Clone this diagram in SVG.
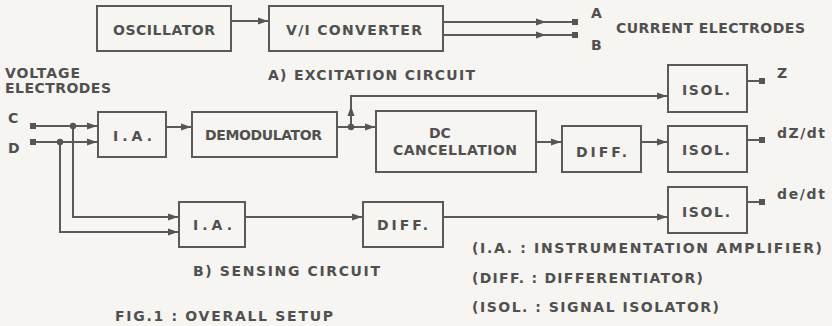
<svg xmlns="http://www.w3.org/2000/svg" width="832" height="326" viewBox="0 0 832 326">
<defs>
<marker id="arr" markerUnits="userSpaceOnUse" markerWidth="11" markerHeight="9" refX="10" refY="4.5" orient="auto">
<path d="M0,1 L10,4.5 L0,8 z" fill="#555"/>
</marker>
<style>
.box{fill:none;stroke:#5a5a5a;stroke-width:2}
.ln{fill:none;stroke:#5a5a5a;stroke-width:2}
.ar{marker-end:url(#arr)}
.am{marker-mid:url(#arr)}
.dot{fill:#555}
.sq{fill:#555}
text{font-family:"DejaVu Sans","Liberation Sans",sans-serif;font-weight:bold;font-size:14px;fill:#505050}
</style>
</defs>
<rect x="0" y="0" width="832" height="326" fill="#f6f5f1"/>

<g id="oscillator"><rect class="box" x="97" y="6" width="134" height="45"/><text x="113" y="35" textLength="102" lengthAdjust="spacing">OSCILLATOR</text></g>
<g id="vi-converter"><rect class="box" x="269" y="6" width="174" height="45"/><text x="286" y="35" textLength="136" lengthAdjust="spacing">V/I CONVERTER</text></g>
<g id="ia1"><rect class="box" x="98" y="112" width="68" height="45"/><text x="113" y="141" textLength="39" lengthAdjust="spacing">I.A.</text></g>
<g id="demodulator"><rect class="box" x="192" y="112" width="145" height="45"/><text x="205" y="140" textLength="117" lengthAdjust="spacing">DEMODULATOR</text></g>
<g id="dc-cancellation"><rect class="box" x="376" y="111" width="160" height="61"/><text x="429" y="138">DC</text><text x="393" y="155" textLength="124" lengthAdjust="spacing">CANCELLATION</text></g>
<g id="diff1"><rect class="box" x="562" y="126" width="79" height="46"/><text x="576" y="157" textLength="51" lengthAdjust="spacing">DIFF.</text></g>
<g id="isol1"><rect class="box" x="668" y="65" width="79" height="47"/><text x="682" y="95" textLength="48" lengthAdjust="spacing">ISOL.</text></g>
<g id="isol2"><rect class="box" x="668" y="126" width="79" height="46"/><text x="682" y="155" textLength="48" lengthAdjust="spacing">ISOL.</text></g>
<g id="isol3"><rect class="box" x="668" y="187" width="79" height="46"/><text x="682" y="217" textLength="48" lengthAdjust="spacing">ISOL.</text></g>
<g id="ia2"><rect class="box" x="179" y="202" width="66" height="45"/><text x="193" y="230" textLength="39" lengthAdjust="spacing">I.A.</text></g>
<g id="diff2"><rect class="box" x="363" y="202" width="80" height="45"/><text x="377" y="230" textLength="51" lengthAdjust="spacing">DIFF.</text></g>

<g id="connectors">
<path class="ln ar" d="M231,21 L268,21"/>
<path class="ln am" d="M443,22 L546,22 L575,22"/>
<path class="ln am" d="M443,35 L546,35 L575,35"/>
<path class="ln ar" d="M35,126 L97,126"/>
<path class="ln ar" d="M35,142 L97,142"/>
<path class="ln ar" d="M73,126 L73,217 L178,217"/>
<path class="ln ar" d="M60,142 L60,232 L178,232"/>
<path class="ln ar" d="M166,127 L191,127"/>
<path class="ln ar" d="M337,127 L375,127"/>
<path class="ln ar" d="M351,127 L351,106"/>
<path class="ln ar" d="M351,108 L351,96 L667,96"/>
<path class="ln ar" d="M536,142 L561,142"/>
<path class="ln ar" d="M641,142 L667,142"/>
<path class="ln ar" d="M245,217 L362,217"/>
<path class="ln ar" d="M443,217 L667,217"/>
<path class="ln" d="M747,81 L760,81"/>
<path class="ln" d="M747,140 L760,140"/>
<path class="ln" d="M747,202 L760,202"/>
<circle class="dot" cx="73" cy="126" r="3.2"/>
<circle class="dot" cx="60" cy="142" r="3.2"/>
<circle class="dot" cx="351" cy="127" r="3.2"/>
<rect class="sq" x="572" y="19" width="6" height="6"/>
<rect class="sq" x="572" y="32" width="6" height="6"/>
<rect class="sq" x="30" y="123" width="6" height="6"/>
<rect class="sq" x="30" y="139" width="6" height="6"/>
<rect class="sq" x="759" y="78" width="6" height="6"/>
<rect class="sq" x="759" y="137" width="6" height="6"/>
<rect class="sq" x="759" y="199" width="6" height="6"/>
</g>

<g id="labels">
<text x="591" y="18">A</text>
<text x="591" y="50">B</text>
<text x="616" y="33" textLength="189" lengthAdjust="spacing">CURRENT ELECTRODES</text>
<text x="268" y="80" textLength="207" lengthAdjust="spacing">A) EXCITATION CIRCUIT</text>
<text x="5" y="78" textLength="75" lengthAdjust="spacing">VOLTAGE</text>
<text x="5" y="93" textLength="106" lengthAdjust="spacing">ELECTRODES</text>
<text x="8" y="123">C</text>
<text x="8" y="153">D</text>
<text x="777" y="78">Z</text>
<text x="777" y="138" textLength="48" lengthAdjust="spacing">dZ/dt</text>
<text x="777" y="199" textLength="48" lengthAdjust="spacing">de/dt</text>
<text x="193" y="276" textLength="187" lengthAdjust="spacing">B) SENSING CIRCUIT</text>
<text x="115" y="321" textLength="218" lengthAdjust="spacing">FIG.1 : OVERALL SETUP</text>
<text x="472" y="253" textLength="350" lengthAdjust="spacing">(I.A. : INSTRUMENTATION AMPLIFIER)</text>
<text x="472" y="283" textLength="231" lengthAdjust="spacing">(DIFF. : DIFFERENTIATOR)</text>
<text x="472" y="312" textLength="247" lengthAdjust="spacing">(ISOL. : SIGNAL ISOLATOR)</text>
</g>
</svg>
